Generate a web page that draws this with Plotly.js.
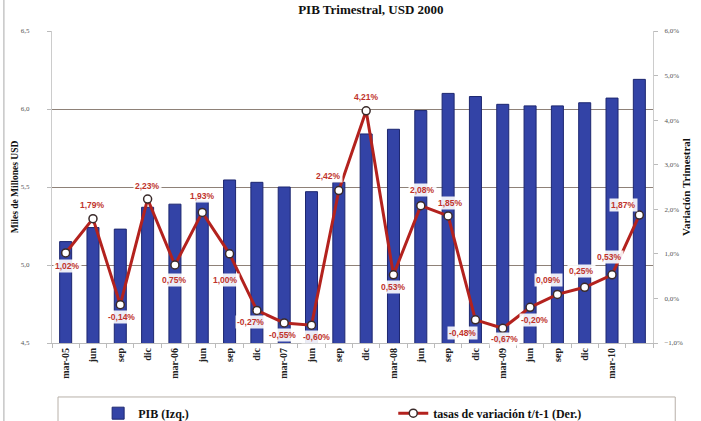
<!DOCTYPE html>
<html>
<head>
<meta charset="utf-8">
<script src="https://cdn.plot.ly/plotly-3.0.1.min.js"></script>
<style>html,body{margin:0;padding:0;background:#fff;}#chart{width:701px;height:421px;}</style>
</head>
<body>
<div id="chart"></div>
<script>
// Quarter tick labels (last quarter has no label in the reference)
const tickLabels = ["mar-05","jun","sep","dic","mar-06","jun","sep","dic","mar-07","jun","sep","dic",
  "mar-08","jun","sep","dic","mar-09","jun","sep","dic","mar-10",""];
// PIB, miles de millones USD (left axis)
const pib = [5.15,5.24,5.23,5.37,5.39,5.41,5.545,5.53,5.50,5.47,5.53,5.84,
  5.87,5.99,6.10,6.08,6.03,6.02,6.02,6.04,6.07,6.19];
// Variación trimestral t/t-1, % (right axis)
const tasa = [1.02,1.79,-0.14,2.23,0.75,1.93,1.00,-0.27,-0.55,-0.60,2.42,4.21,
  0.53,2.08,1.85,-0.48,-0.67,-0.20,0.09,0.25,0.53,1.87];
// label offsets (px) relative to each point
const labDx = [2,0,1,0,0,0,-4,-6,-2,5,-10,0,0,2,2,-13,2,4,-9,-3,-3,-16];
const labDy = [-13,14,-12,13,-15,16,-26,-12,-12,-12,15,14,-12,16,13,-13,-11,-13,14,16,18,10];

const idx = pib.map((_, i) => i);
const fmt = v => v.toFixed(2).replace('.', ',') + '%';

const serif = "Liberation Serif, Times New Roman, serif";

const traces = [
  {
    type: 'bar', x: idx, y: pib, name: 'PIB (Izq.)', legend: 'legend',
    marker: {color: '#3343a6', line: {color: '#1d2770', width: 1}},
    yaxis: 'y', hoverinfo: 'skip'
  },
  {
    type: 'scatter', mode: 'lines+markers', x: idx, y: tasa, yaxis: 'y2', legend: 'legend2',
    name: 'tasas de variación t/t-1 (Der.)',
    line: {color: '#b3221e', width: 3},
    marker: {symbol: 'circle', size: 8, color: '#ffffff', line: {color: '#3a2a2a', width: 1.5}},
    hoverinfo: 'skip'
  }
];

const annotations = tasa.map((v, i) => ({
  x: i, y: v, xref: 'x', yref: 'y2', text: fmt(v), showarrow: false,
  xshift: labDx[i], yshift: labDy[i],
  font: {family: 'Liberation Sans, Arial, sans-serif', size: 8.5, color: '#c0332c', weight: 'bold'},
  bgcolor: 'rgba(255,255,255,0.9)', borderpad: 1
}));

const legendFont = {family: serif, size: 12, color: '#111', weight: 'bold'};

const layout = {
  width: 701, height: 421,
  margin: {l: 52, r: 48, t: 31, b: 78, autoexpand: false},
  paper_bgcolor: '#ffffff', plot_bgcolor: '#ffffff',
  separators: ',.',
  showlegend: true,
  bargap: 0.56,
  title: {
    text: 'PIB Trimestral, USD 2000', x: 0.529, xref: 'container', xanchor: 'center',
    y: 0.978, yref: 'container', yanchor: 'middle',
    font: {family: serif, size: 13, color: '#111', weight: 'bold'}
  },
  xaxis: {
    range: [-0.5, 21.5], tickmode: 'array', tickvals: idx, ticktext: tickLabels,
    tickangle: -90, ticks: '', showgrid: false, zeroline: false,
    showline: true, linecolor: '#bbbbbb', linewidth: 1,
    tickfont: {family: serif, size: 10, color: '#222', weight: 'bold'},
    minor: {tickmode: 'linear', tick0: 0.5, dtick: 1, ticks: 'outside', ticklen: 4, tickcolor: '#bbbbbb', showgrid: false}
  },
  yaxis: {
    range: [4.5, 6.5], tickmode: 'linear', tick0: 4.5, dtick: 0.5, tickformat: '.1f',
    showgrid: true, gridcolor: '#8e8178', gridwidth: 1, zeroline: false,
    showline: true, linecolor: '#cccccc', ticks: 'outside', ticklen: 4, tickcolor: '#bbbbbb',
    ticklabelstandoff: 16,
    tickfont: {family: serif, size: 7, color: '#555'},
    title: {text: 'Miles de Millones USD', standoff: 0, font: {family: serif, size: 9.5, color: '#111', weight: 'bold'}}
  },
  yaxis2: {
    range: [-1, 6], overlaying: 'y', side: 'right', tickmode: 'linear', tick0: -1, dtick: 1,
    tickformat: '.1f', ticksuffix: '%', showgrid: false, zeroline: false,
    showline: true, linecolor: '#cccccc', ticks: 'outside', ticklen: 4, tickcolor: '#bbbbbb',
    ticklabelstandoff: 5,
    tickfont: {family: serif, size: 7, color: '#555'},
    title: {text: 'Variación Trimestral', standoff: 0, font: {family: serif, size: 11, color: '#111', weight: 'bold'}}
  },
  legend: {
    orientation: 'h', x: 0.14, xanchor: 'left', y: 0.053, yanchor: 'top',
    xref: 'container', yref: 'container',
    bgcolor: 'rgba(0,0,0,0)', borderwidth: 0, itemwidth: 30,
    font: legendFont
  },
  legend2: {
    orientation: 'h', x: 0.561, xanchor: 'left', y: 0.053, yanchor: 'top',
    xref: 'container', yref: 'container',
    bgcolor: 'rgba(0,0,0,0)', borderwidth: 0, itemwidth: 30,
    font: legendFont
  },
  annotations: annotations,
  shapes: [
    {type: 'rect', xref: 'paper', yref: 'paper', x0: 0.01, x1: 1.037, y0: -0.173, y1: -0.3,
     line: {color: '#b8b0a8', width: 1}, fillcolor: 'rgba(0,0,0,0)', layer: 'below'},
    {type: 'line', xref: 'paper', yref: 'paper', x0: -0.08, x1: -0.08, y0: -0.3, y1: 1.2,
     line: {color: '#aaaaaa', width: 1}}
  ]
};

Plotly.newPlot('chart', traces, layout, {staticPlot: true, displayModeBar: false});
</script>
</body>
</html>
